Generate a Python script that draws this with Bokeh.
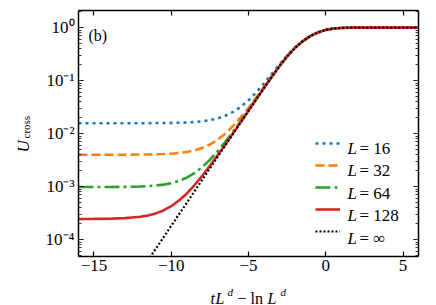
import math
from bokeh.plotting import figure
from bokeh.layouts import row, column
from bokeh.models import (Range1d, LinearAxis, LogAxis, FixedTicker, LogTicker,
                          CustomJSTickFormatter, Label, Legend, LegendItem)
from bokeh.core.properties import value
from bokeh.embed import file_html
from bokeh.resources import INLINE

# ---------------- data ----------------
X = [-16, -15, -14, -13, -12, -11.5, -11, -10.5, -10, -9.5, -9, -8.5, -8, -7.5,
     -7, -6.5, -6, -5.5, -5, -4.5, -4, -3.5, -3, -2.5, -2, -1.5, -1, -0.5, 0,
     0.5, 1, 1.5, 2, 3, 4, 5, 6]

U_L16 = [0.0157, 0.0157, 0.0157, 0.0157, 0.0157, 0.0157, 0.0158, 0.0158, 0.0159,
         0.0160, 0.0162, 0.0165, 0.0170, 0.0179, 0.0194, 0.0217, 0.0256, 0.0320,
         0.0425, 0.060, 0.088, 0.133, 0.20, 0.30, 0.42, 0.56, 0.70, 0.815, 0.908,
         0.961, 0.986, 0.995, 0.999, 1.0, 1.0, 1.0, 1.0]
U_L32 = [0.0040, 0.0040, 0.0040, 0.0040, 0.00403, 0.00404, 0.00407, 0.00411,
         0.00418, 0.00430, 0.00449, 0.00481, 0.00534, 0.00621, 0.00765, 0.0100,
         0.0139, 0.0203, 0.0308, 0.048, 0.076, 0.121, 0.190, 0.289, 0.414, 0.554,
         0.694, 0.813, 0.907, 0.96, 0.985, 0.995, 0.999, 1.0, 1.0, 1.0, 1.0]
U_L64 = [0.00098, 0.00098, 0.00098, 0.00099, 0.001005, 0.00102, 0.00105, 0.00109,
         0.00116, 0.00128, 0.00147, 0.00179, 0.00232, 0.00319, 0.00463, 0.00698,
         0.0109, 0.0173, 0.0278, 0.045, 0.073, 0.118, 0.187, 0.286, 0.411, 0.551,
         0.691, 0.811, 0.905, 0.96, 0.985, 0.995, 0.999, 1.0, 1.0, 1.0, 1.0]
U_L128 = [0.000245, 0.000246, 0.000248, 0.000254, 0.000270, 0.000286, 0.000312,
          0.000355, 0.000427, 0.000545, 0.000735, 0.00106, 0.00159, 0.00246,
          0.00390, 0.00625, 0.0101, 0.0165, 0.0270, 0.0442, 0.0722, 0.117, 0.186,
          0.285, 0.41, 0.55, 0.69, 0.81, 0.905, 0.96, 0.985, 0.995, 0.999, 1.0,
          1.0, 1.0, 1.0]
U_INF = [4.5e-7, 1.2e-6, 3.3e-6, 9.0e-6, 2.5e-5, 4.1e-5, 6.7e-5, 1.10e-4, 1.82e-4,
         3.0e-4, 4.9e-4, 8.1e-4, 1.34e-3, 2.21e-3, 3.65e-3, 6.0e-3, 9.9e-3, 0.0163,
         0.0268, 0.044, 0.072, 0.117, 0.186, 0.285, 0.41, 0.55, 0.69, 0.81, 0.905,
         0.96, 0.985, 0.995, 0.999, 1.0, 1.0, 1.0, 1.0]

SERIES = [U_L16, U_L32, U_L64, U_L128, U_INF]
LEGEND_NAMES = ["16", "32", "64", "128", "\u221e"]
X_TICKS = [-15, -10, -5, 0, 5]

# ---------------- styles ----------------
COLORS = ["#1f77b4", "#ff7f0e", "#2ca02c", "#d62728", "black"]
DASHES = ["3 4", "9 4", "15 4 3 4", "solid", "2 2"]
WIDTHS = [2.6, 2.6, 2.6, 2.6, 2.2]
FONT = "Liberation Serif"

LEFT_W = 40      # strip holding the y-axis title
BOTTOM_H = 26    # strip holding the x-axis title


def make_label(text, x, y, size, style="normal", angle=0.0):
    return Label(x=x, y=y, x_units="screen", y_units="screen", text=text,
                 text_font=FONT, text_font_size=size, text_font_style=style,
                 text_color="black", angle=angle, text_align="left",
                 text_baseline="alphabetic")


def blank_fig(w, h):
    f = figure(width=w, height=h, x_range=Range1d(0, w), y_range=Range1d(0, h),
               output_backend="svg", toolbar_location=None, min_border=0,
               x_axis_location=None, y_axis_location=None)
    f.grid.visible = False
    f.outline_line_color = None
    f.background_fill_color = "white"
    f.border_fill_color = "white"
    return f


# ---------------- main plot ----------------
p = figure(width=436 - LEFT_W, height=305 - BOTTOM_H, y_axis_type="log",
           x_range=Range1d(-16, 6), y_range=Range1d(4.8e-5, 2.1),
           output_backend="svg", toolbar_location=None,
           min_border_left=78 - LEFT_W, min_border_right=18, min_border_top=10,
           min_border_bottom=305 - BOTTOM_H - 256)
p.xgrid.visible = False
p.ygrid.visible = False
p.outline_line_color = None
p.background_fill_color = "white"
p.border_fill_color = "white"

renderers = []
for ys, c, d, w in zip(SERIES, COLORS, DASHES, WIDTHS):
    r = p.line(X, ys, line_color=c, line_dash=d, line_width=w)
    renderers.append(r)

bx = p.xaxis[0]
ly = p.yaxis[0]
bx.ticker = FixedTicker(ticks=X_TICKS)
ly.ticker = LogTicker(num_minor_ticks=10)
ly.formatter = CustomJSTickFormatter(code="""
const e = Math.round(Math.log10(tick));
const sup = {'-':'\u207b','0':'\u2070','1':'\u00b9','2':'\u00b2','3':'\u00b3',
             '4':'\u2074','5':'\u2075','6':'\u2076','7':'\u2077','8':'\u2078','9':'\u2079'};
return '10' + String(e).split('').map(c => sup[c]).join('');
""")

top = LinearAxis(ticker=FixedTicker(ticks=X_TICKS),
                 formatter=CustomJSTickFormatter(code="return ''"))
right = LogAxis(ticker=LogTicker(num_minor_ticks=10),
                formatter=CustomJSTickFormatter(code="return ''"))
p.add_layout(top, "above")
p.add_layout(right, "right")

for ax in [bx, ly, top, right]:
    ax.axis_line_color = "black"
    ax.axis_line_width = 1.5
    ax.major_tick_in = 5
    ax.major_tick_out = 0
    ax.minor_tick_in = 3
    ax.minor_tick_out = 0
    ax.major_tick_line_color = "black"
    ax.minor_tick_line_color = "#333333"
    ax.major_tick_line_width = 1.2
    ax.minor_tick_line_width = 1
    ax.major_label_text_font = FONT
    ax.major_label_text_font_size = "17px"
    ax.major_label_text_color = "black"
for ax in [bx, top]:
    ax.minor_tick_line_color = None
for ax in [top, right]:
    ax.major_label_text_font_size = "0px"
    ax.major_label_standoff = 0
bx.major_label_standoff = 3
ly.major_label_standoff = 4

# legend (glyph samples) + composed labels
items = [LegendItem(label=value(" "), renderers=[r]) for r in renderers]
legend = Legend(items=items, location=(237, 15), padding=0, margin=0,
                glyph_width=25, glyph_height=20, label_height=20, label_width=0,
                label_standoff=0, spacing=2, label_text_font_size="8px",
                background_fill_alpha=0, border_line_color=None)
p.add_layout(legend)
for i, name in enumerate(LEGEND_NAMES):
    yb = 108.5 - 22.5 * i
    p.add_layout(make_label("L", 269, yb, "17px", "italic"))
    p.add_layout(make_label("= " + name, 281, yb, "17px"))

p.add_layout(make_label("(b)", 10, 221, "16px"))

# ---------------- x-axis title strip: t L^d − ln L^d ----------------
# (the column aligns this strip's frame with the main plot's frame)
bt = blank_fig(436 - LEFT_W, BOTTOM_H)
x0 = 132
for txt, dx, y, size, style in [("t", 0, 7, "16px", "italic"),
                                ("L", 5, 7, "16px", "italic"),
                                ("d", 17, 14, "11px", "italic"),
                                ("\u2212", 27, 7, "16px", "normal"),
                                ("ln", 40, 7, "16px", "normal"),
                                ("L", 57, 7, "16px", "italic"),
                                ("d", 70, 14, "11px", "italic")]:
    bt.add_layout(make_label(txt, x0 + dx, y, size, style))

# ---------------- y-axis title strip: U_cross ----------------
lt = blank_fig(LEFT_W, 305)
lt.add_layout(make_label("U", 23, 153, "17px", "italic", math.pi / 2))
lt.add_layout(make_label("cross", 25.5, 167, "11px", "normal", math.pi / 2))

layout = row(lt, column(p, bt, spacing=0), spacing=0)

open("out.html", "w").write(file_html(layout, INLINE))
